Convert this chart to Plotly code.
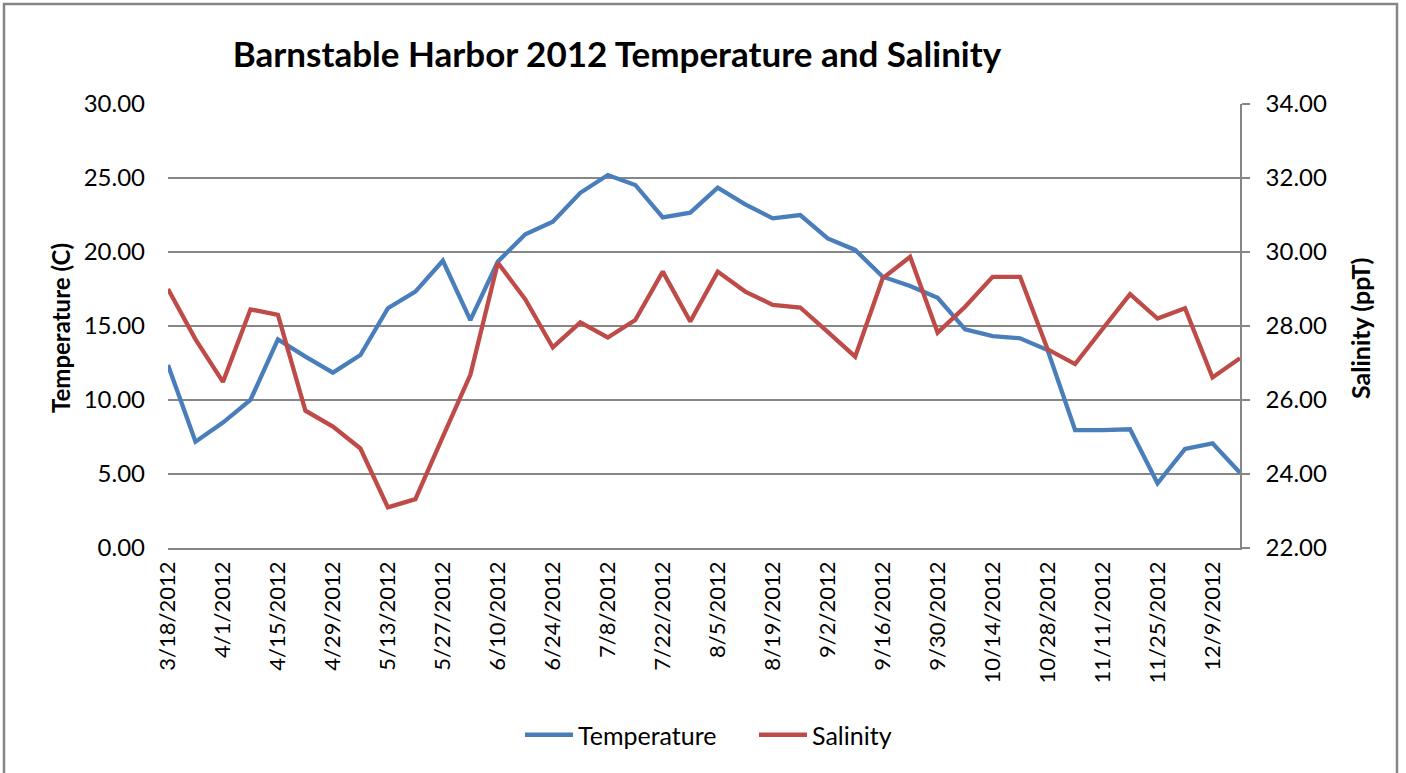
import plotly.graph_objects as go

dates = ["3/18/2012","3/25/2012","4/1/2012","4/8/2012","4/15/2012","4/22/2012","4/29/2012",
         "5/6/2012","5/13/2012","5/20/2012","5/27/2012","6/3/2012","6/10/2012","6/17/2012",
         "6/24/2012","7/1/2012","7/8/2012","7/15/2012","7/22/2012","7/29/2012","8/5/2012",
         "8/12/2012","8/19/2012","8/26/2012","9/2/2012","9/9/2012","9/16/2012","9/23/2012",
         "9/30/2012","10/7/2012","10/14/2012","10/21/2012","10/28/2012","11/4/2012",
         "11/11/2012","11/18/2012","11/25/2012","12/2/2012","12/9/2012","12/16/2012"]

temperature = [12.36, 7.18, 8.47, 10.00, 14.10, 12.93, 11.85, 13.04, 16.20, 17.32,
               19.41, 15.40, 19.35, 21.20, 22.05, 24.00, 25.20, 24.53, 22.34, 22.66,
               24.35, 23.22, 22.27, 22.50, 20.92, 20.14, 18.33, 17.70, 16.90, 14.77,
               14.32, 14.17, 13.38, 7.97, 7.97, 8.02, 4.37, 6.69, 7.07, 5.09]

salinity = [29.00, 27.64, 26.49, 28.45, 28.30, 25.71, 25.28, 24.69, 23.10, 23.32,
            25.01, 26.68, 29.71, 28.72, 27.42, 28.10, 27.69, 28.16, 29.47, 28.12,
            29.47, 28.93, 28.57, 28.50, 27.84, 27.17, 29.29, 29.87, 27.82, 28.52,
            29.33, 29.33, 27.37, 26.97, 27.92, 28.86, 28.20, 28.48, 26.61, 27.13]

tick_labels = dates[::2]

W, H = 1406, 773
L, R, T, B = 168, 1240, 104, 548
FONT = "Lato"
GRID = "#868686"

fig = go.Figure()
fig.add_trace(go.Scatter(x=dates, y=temperature, name="Temperature", mode="lines",
                         line=dict(color="#4A7EBB", width=4.3), yaxis="y"))
fig.add_trace(go.Scatter(x=dates, y=salinity, name="Salinity", mode="lines",
                         line=dict(color="#BE4B48", width=4.3), yaxis="y2"))

def px_x(p):
    return (p - L) / (R - L)

def px_y(p):
    return (B - p) / (B - T)

fig.update_layout(
    width=W, height=H,
    margin=dict(l=L, r=W - R, t=T, b=H - B),
    paper_bgcolor="white", plot_bgcolor="white",
    font=dict(family=FONT, size=22, color="black"),
    title=dict(text="Barnstable Harbor 2012 Temperature and Salinity",
               xref="container", yref="container", x=617 / W, y=1 - 55 / H,
               xanchor="center", yanchor="middle",
               font=dict(family=FONT, size=35, weight="bold", color="black")),
    xaxis=dict(type="category", range=[0, len(dates) - 1], tickmode="array",
               tickvals=tick_labels, ticktext=tick_labels, tickangle=-90,
               showgrid=False, showline=True, linecolor=GRID, linewidth=1.5,
               ticks="", ticklabelstandoff=3, tickfont=dict(size=22)),
    yaxis=dict(range=[0, 30], dtick=5, tick0=0, tickformat=".2f",
               showgrid=True, gridcolor=GRID, gridwidth=1.5, zeroline=False,
               showline=False, ticks="", ticklabelstandoff=22, tickfont=dict(size=24)),
    yaxis2=dict(range=[22, 34], dtick=2, tick0=22, tickformat=".2f", overlaying="y",
                side="right", showgrid=False, zeroline=False, showline=True,
                linecolor=GRID, linewidth=1.5, ticks="outside", ticklen=8,
                tickcolor=GRID, tickwidth=1.5, ticklabelstandoff=11,
                tickfont=dict(size=24)),
    legend=dict(orientation="h", x=px_x(520), xanchor="left", y=px_y(735),
                yanchor="middle", font=dict(size=25), bgcolor="rgba(0,0,0,0)",
                itemwidth=48, entrywidthmode="pixels", entrywidth=171, tracegroupgap=0),
    showlegend=True,
    annotations=[
        dict(text="Temperature (C)", xref="paper", yref="paper", x=px_x(60), y=px_y(328),
             xanchor="center", yanchor="middle", textangle=-90, showarrow=False,
             font=dict(family=FONT, size=24, weight="bold")),
        dict(text="Salinity (ppT)", xref="paper", yref="paper", x=px_x(1360), y=px_y(329),
             xanchor="center", yanchor="middle", textangle=-90, showarrow=False,
             font=dict(family=FONT, size=25, weight="bold")),
    ],
    shapes=[
        dict(type="rect", xref="paper", yref="paper",
             x0=px_x(4), x1=px_x(1397), y0=px_y(800), y1=px_y(4),
             line=dict(color=GRID, width=2.5), fillcolor="rgba(0,0,0,0)", layer="below"),
    ],
)

fig.write_html("out.html", config={"displayModeBar": False},
               post_script="document.body.style.margin='0';")
